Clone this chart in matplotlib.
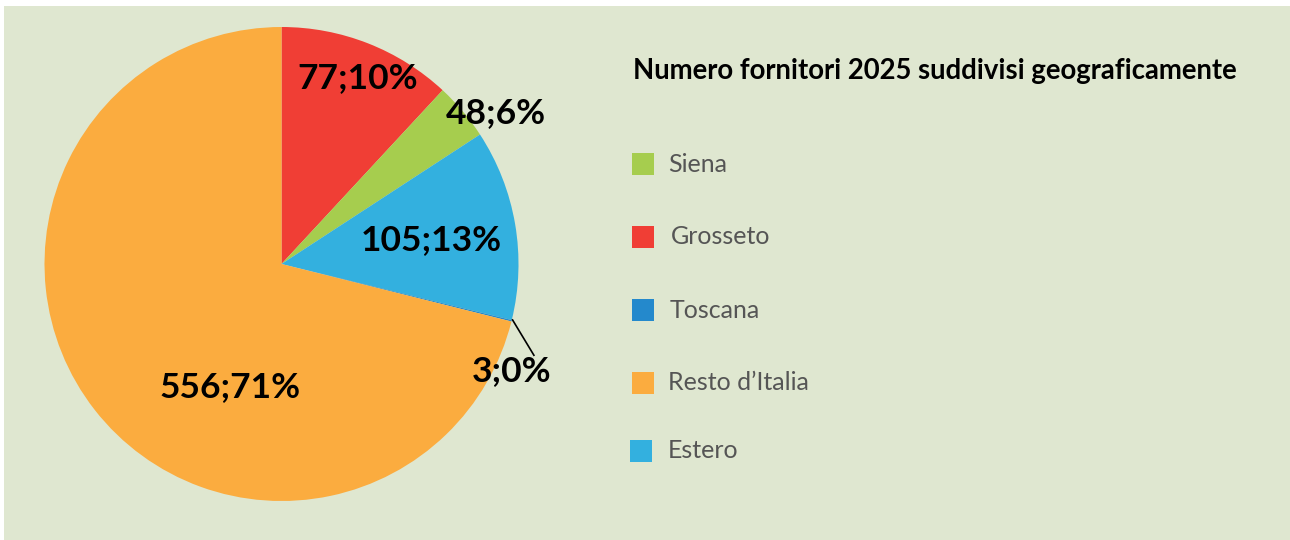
import matplotlib
matplotlib.use("Agg")
import matplotlib.pyplot as plt
from matplotlib.patches import Rectangle

# Data (pie order, clockwise from top)
slice_names = ["Grosseto", "Siena", "Estero", "Toscana", "Resto d\u2019Italia"]
slice_counts = [77, 48, 105, 3, 556]          # numbers printed on the labels
slice_pcts = [10, 6, 13, 0, 71]               # percentages printed on the labels
slice_shares = [11.9, 3.9, 13.0, 0.1, 71.1]   # wedge sizes as drawn (%)
slice_colors = ["#f03e35", "#a6cd4e", "#33b0df", "#2489cc", "#fbac3f"]

legend_names = ["Siena", "Grosseto", "Toscana", "Resto d\u2019Italia", "Estero"]
title = "Numero fornitori 2025 suddivisi geograficamente"

W, H = 1290, 540
BG = "#dfe7d0"
fig = plt.figure(figsize=(W / 100, H / 100), dpi=100)
fig.patch.set_facecolor("white")
fig.add_artist(Rectangle((4 / W, 0), 1 - 4 / W, 1 - 6 / H, transform=fig.transFigure,
                         facecolor=BG, edgecolor="none", zorder=0))

cx, cy, r = 281.5, 264, 237
ax = fig.add_axes([(cx - r) / W, (H - cy - r) / H, 2 * r / W, 2 * r / H])
ax.set_facecolor("none")
ax.pie(slice_shares, colors=slice_colors, startangle=90, counterclock=False,
       radius=1.0, wedgeprops=dict(linewidth=0))
ax.set_xlim(-1, 1)
ax.set_ylim(-1, 1)
ax.set_aspect("equal")
ax.axis("off")

label_font = dict(fontsize=25.5, fontweight="bold", color="black",
                  family=["Lato", "DejaVu Sans"], ha="center", va="center")
label_pos = [(0.32, 0.785), (0.905, 0.635), (0.63, 0.10), (0.97, -0.45), (-0.215, -0.52)]
for v, p, pos in zip(slice_counts, slice_pcts, label_pos):
    ax.text(pos[0], pos[1], f"{v};{p}%", **label_font)
# leader line for the tiny slice
ax.plot([0.975, 1.065], [-0.236, -0.385], color="black", lw=1.2, clip_on=False)

# Title
fig.text(633 / W, 1 - 71 / H, title, fontsize=19.8, fontweight="bold",
         family=["Lato", "DejaVu Sans"], ha="left", va="center")

# Legend
color_of = dict(zip(slice_names, slice_colors))
ys = [164, 237, 310, 383, 451]
sq_x = [632, 632, 632, 632, 630]
tx_x = [668, 671, 670, 668, 668]
for name, y, sx, tx in zip(legend_names, ys, sq_x, tx_x):
    fig.add_artist(Rectangle((sx / W, 1 - (y + 11) / H), 22 / W, 22 / H,
                             transform=fig.transFigure, facecolor=color_of[name],
                             edgecolor="none"))
    fig.text(tx / W, 1 - y / H, name, fontsize=18, color="#555555",
             family=["Lato", "DejaVu Sans"], ha="left", va="center")

fig.savefig("out.png", dpi=100, facecolor=fig.get_facecolor())
